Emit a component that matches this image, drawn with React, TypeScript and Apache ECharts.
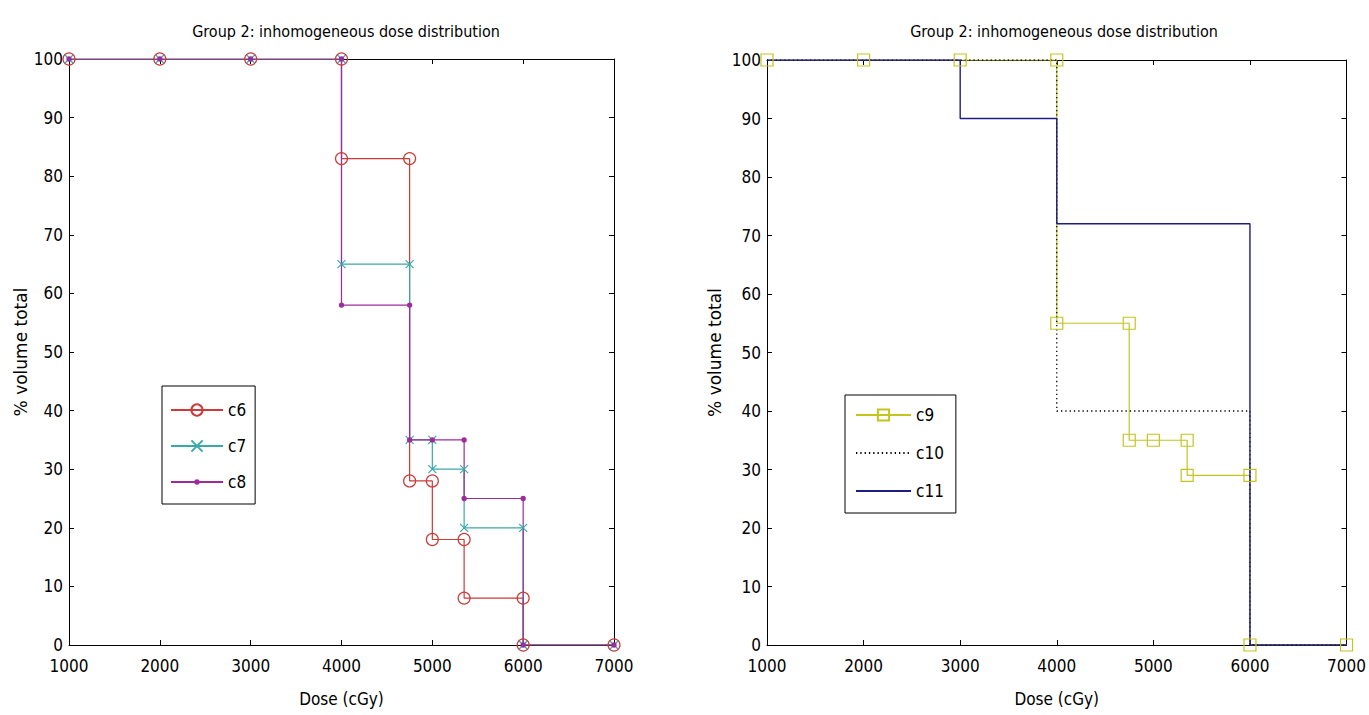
import React, { useEffect, useRef } from "react";
import * as echarts from "echarts";

const FONT = "'Liberation Sans Narrow', 'Arial Narrow', 'DejaVu Sans Condensed', sans-serif";
const LABEL_FONT = "'DejaVu Sans', 'Noto Sans', sans-serif";
const TITLE = "Group 2: inhomogeneous dose distribution";
const X_NAME = "Dose (cGy)";
const Y_NAME = "% volume total";

// Left panel
const doseC6 = [1000, 2000, 3000, 4000, 4000, 4750, 4750, 5000, 5000, 5350, 5350, 6000, 6000, 7000];
const volC6 = [100, 100, 100, 100, 83, 83, 28, 28, 18, 18, 8, 8, 0, 0];
const doseC7 = [1000, 2000, 3000, 4000, 4000, 4750, 4750, 5000, 5000, 5350, 5350, 6000, 6000, 7000];
const volC7 = [100, 100, 100, 100, 65, 65, 35, 35, 30, 30, 20, 20, 0, 0];
const doseC8 = [1000, 2000, 3000, 4000, 4000, 4750, 4750, 5000, 5350, 5350, 6000, 6000, 7000];
const volC8 = [100, 100, 100, 100, 58, 58, 35, 35, 35, 25, 25, 0, 0];

// Right panel
const doseC9 = [1000, 2000, 3000, 4000, 4000, 4750, 4750, 5000, 5350, 5350, 6000, 6000, 7000];
const volC9 = [100, 100, 100, 100, 55, 55, 35, 35, 35, 29, 29, 0, 0];
const doseC10 = [1000, 4000, 4000, 6000, 6000, 7000];
const volC10 = [100, 100, 40, 40, 0, 0];
const doseC11 = [1000, 3000, 3000, 4000, 4000, 6000, 6000, 7000];
const volC11 = [100, 100, 90, 90, 72, 72, 0, 0];

const RED = "#cc3a3a";
const CYAN = "#3aa9a9";
const PURPLE = "#9c2c9c";
const YELLOW = "#c4c420";
const BLACK = "#000000";
const NAVY = "#1e1e82";

const zip = (xs: number[], ys: number[]) => xs.map((x, i) => [x, ys[i]]);

const X_SYMBOL = "path://M0,0L10,10M10,0L0,10";
// small dot inside a larger (invisible) bounding box
const DOT_SYMBOL = "path://M0,0M10,10M5,2.6A2.4,2.4,0,1,1,5,7.4A2.4,2.4,0,1,1,5,2.6Z";

const HIDDEN_MARK = { color: "rgba(0,0,0,0)", borderWidth: 0, borderColor: "rgba(0,0,0,0)" };

function xAxisCfg(gridIndex: number, position: "bottom" | "top", main: boolean) {
  return {
    type: "value",
    gridIndex,
    position,
    min: 1000,
    max: 7000,
    interval: 1000,
    name: main ? X_NAME : "",
    nameLocation: "middle",
    nameGap: 45,
    nameTextStyle: { fontFamily: FONT, fontSize: 17, color: "#000" },
    axisLine: { show: true, onZero: false, lineStyle: { color: "#000", width: 1 } },
    axisTick: { show: true, inside: true, length: 5, lineStyle: { color: "#000" } },
    axisLabel: {
      show: main,
      margin: 12,
      fontFamily: FONT,
      fontSize: 17,
      color: "#000",
      formatter: (v: number) => String(v),
    },
    splitLine: { show: false },
  };
}

function yAxisCfg(gridIndex: number, position: "left" | "right", main: boolean, gap: number) {
  return {
    type: "value",
    gridIndex,
    position,
    min: 0,
    max: 100,
    interval: 10,
    name: main ? Y_NAME : "",
    nameLocation: "middle",
    nameGap: gap,
    nameRotate: 90,
    nameTextStyle: { fontFamily: LABEL_FONT, fontSize: 17, color: "#000" },
    axisLine: { show: true, onZero: false, lineStyle: { color: "#000", width: 1 } },
    axisTick: { show: true, inside: true, length: 5, lineStyle: { color: "#000" } },
    axisLabel: {
      show: main,
      margin: 6,
      fontFamily: FONT,
      fontSize: 17,
      color: "#000",
      formatter: (v: number) => String(v),
    },
    splitLine: { show: false },
  };
}

const legendBase = {
  orient: "vertical",
  itemHeight: 14,
  borderColor: "#000",
  borderWidth: 1,
  backgroundColor: "#fff",
  textStyle: { fontFamily: FONT, fontSize: 17, color: "#000", lineHeight: 20 },
};

export default function App() {
  const ref = useRef<HTMLDivElement>(null);

  useEffect(() => {
    if (!ref.current) return;
    const chart = echarts.init(ref.current, undefined, { renderer: "svg" });

    const titleStyle = { fontFamily: FONT, fontSize: 16, fontWeight: "normal", color: "#000" };

    const option: any = {
      animation: false,
      backgroundColor: "#ffffff",
      title: [
        { text: TITLE, left: 341, top: 18, textAlign: "center", textStyle: titleStyle },
        { text: TITLE, left: 1059, top: 18, textAlign: "center", textStyle: titleStyle },
      ],
      grid: [
        { left: 69, top: 59, width: 545, height: 586, containLabel: false },
        { left: 767, top: 60, width: 584, height: 585, containLabel: false },
      ],
      xAxis: [
        xAxisCfg(0, "bottom", true),
        xAxisCfg(0, "top", false),
        xAxisCfg(1, "bottom", true),
        xAxisCfg(1, "top", false),
      ],
      yAxis: [
        yAxisCfg(0, "left", true, 40),
        yAxisCfg(0, "right", false, 40),
        yAxisCfg(1, "left", true, 44),
        yAxisCfg(1, "right", false, 44),
      ],
      legend: [
        {
          ...legendBase,
          data: ["c6", "c7", "c8"],
          left: 162,
          top: 386,
          padding: [14, 9, 12, 8],
          itemGap: 16,
          itemWidth: 52,
        },
        {
          ...legendBase,
          data: [
            "c9",
            { name: "c10", itemStyle: HIDDEN_MARK },
            { name: "c11", itemStyle: HIDDEN_MARK },
          ],
          left: 845,
          top: 395,
          padding: [10, 12, 12, 10],
          itemGap: 18,
          itemWidth: 55,
        },
      ],
      series: [
        {
          name: "c6",
          type: "line",
          xAxisIndex: 0,
          yAxisIndex: 0,
          data: zip(doseC6, volC6),
          symbol: "circle",
          symbolSize: 12,
          lineStyle: { color: RED, width: 1.2 },
          itemStyle: { color: "rgba(0,0,0,0)", borderColor: RED, borderWidth: 1.2 },
        },
        {
          name: "c7",
          type: "line",
          xAxisIndex: 0,
          yAxisIndex: 0,
          data: zip(doseC7, volC7),
          symbol: X_SYMBOL,
          symbolSize: 8,
          lineStyle: { color: CYAN, width: 1.2 },
          itemStyle: { color: "rgba(0,0,0,0)", borderColor: CYAN, borderWidth: 1.2 },
        },
        {
          name: "c8",
          type: "line",
          xAxisIndex: 0,
          yAxisIndex: 0,
          data: zip(doseC8, volC8),
          symbol: DOT_SYMBOL,
          symbolSize: 11,
          lineStyle: { color: PURPLE, width: 1.2 },
          itemStyle: { color: PURPLE },
        },
        {
          name: "c9",
          type: "line",
          xAxisIndex: 2,
          yAxisIndex: 2,
          data: zip(doseC9, volC9),
          symbol: "rect",
          symbolSize: 12,
          lineStyle: { color: YELLOW, width: 1.2 },
          itemStyle: { color: "rgba(0,0,0,0)", borderColor: YELLOW, borderWidth: 1.2 },
        },
        {
          name: "c10",
          type: "line",
          xAxisIndex: 2,
          yAxisIndex: 2,
          data: zip(doseC10, volC10),
          symbol: "none",
          lineStyle: { color: BLACK, width: 1.3, type: [1.3, 3] },
          itemStyle: { color: BLACK },
        },
        {
          name: "c11",
          type: "line",
          xAxisIndex: 2,
          yAxisIndex: 2,
          data: zip(doseC11, volC11),
          symbol: "none",
          lineStyle: { color: NAVY, width: 1.4 },
          itemStyle: { color: NAVY },
        },
      ],
    };

    chart.setOption(option);
    return () => chart.dispose();
  }, []);

  return (
    <div
      ref={ref}
      style={{ position: "fixed", left: 0, top: 0, width: 1369, height: 715, background: "#fff" }}
    />
  );
}
